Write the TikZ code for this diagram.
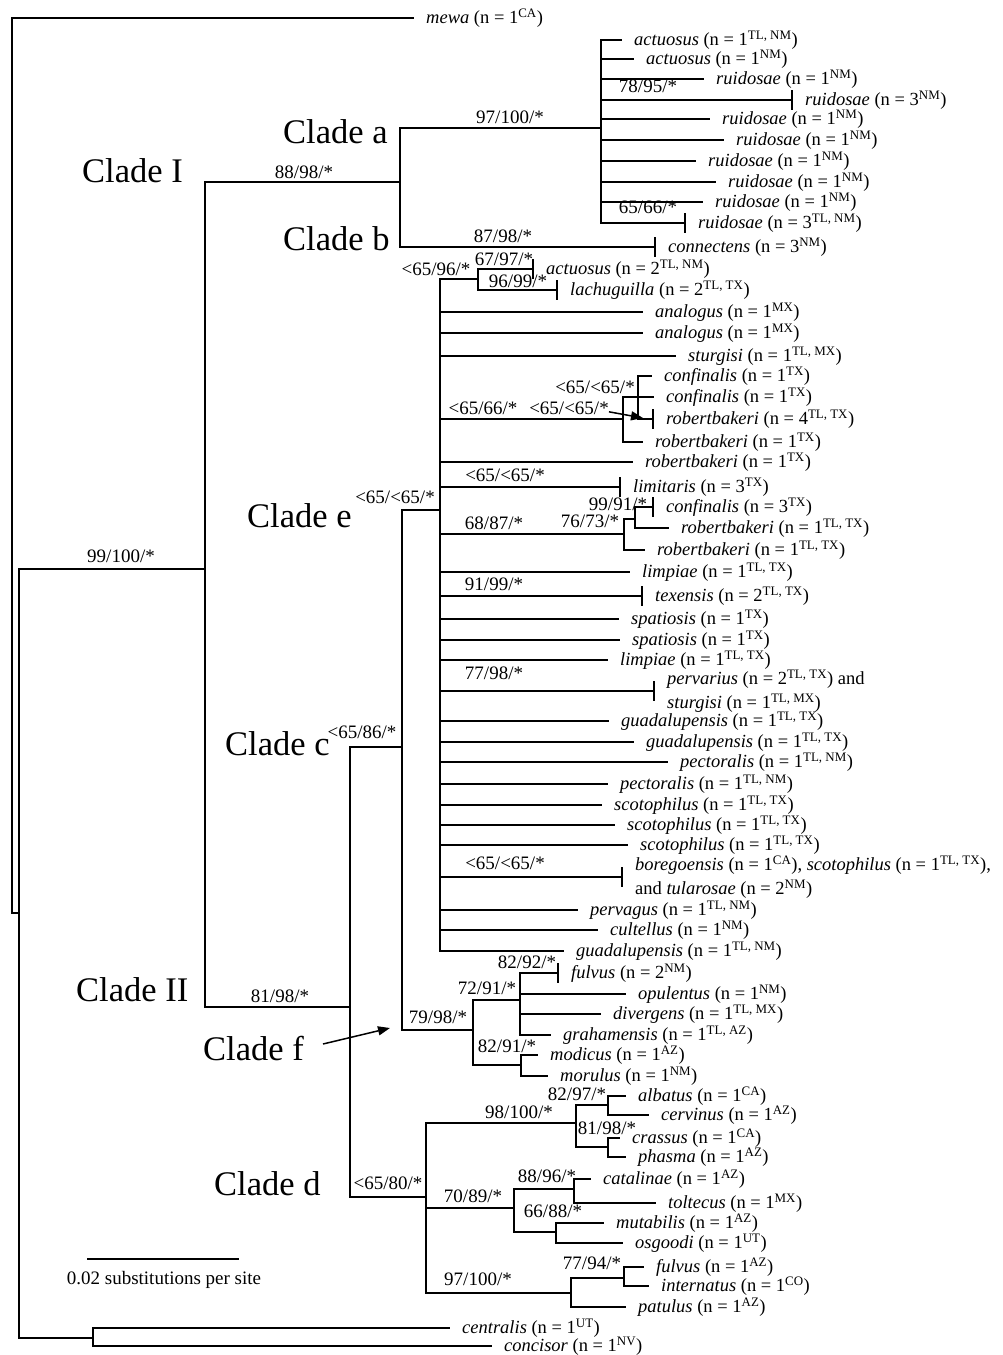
\documentclass[tikz,border=0pt]{standalone}
\usepackage{fontspec}
\setmainfont{Liberation Serif}
\usetikzlibrary{arrows.meta}
\newcommand{\ncount}[2]{(n = #1\textsuperscript{#2})}
\begin{document}
\begin{tikzpicture}[x=1pt,y=-1pt,
  br/.style={line width=2.9pt, line join=miter, line cap=rect},
  leaf/.style={anchor=west, inner xsep=13pt, inner ysep=0pt, font=\fontsize{18.5}{24}\selectfont, align=left},
  supp/.style={anchor=base, inner sep=0pt, font=\fontsize{19}{22}\selectfont},
  clade/.style={anchor=base west, inner sep=0pt, font=\fontsize{34.5}{40}\selectfont},
  tickbar/.style={line width=2.9pt},
  arr/.style={line width=1.5pt, -{Triangle[length=12pt,width=9pt]}}
]
\useasboundingbox (0,0) rectangle (1003,1355);

% internal nodes
\coordinate (root) at (12,913);
\coordinate (X) at (19,913);
\coordinate (CI) at (205,569);
\coordinate (Ia) at (400,182);
\coordinate (Ca) at (601,128);
\coordinate (II) at (350,1007);
\coordinate (Cc) at (402,747);
\coordinate (Ce) at (440,510);
\coordinate (AL) at (478,279);
\coordinate (CF) at (623,419);
\coordinate (CF2) at (638,397);
\coordinate (CR) at (624,534);
\coordinate (CR2) at (635,519);
\coordinate (Cf) at (473,1030);
\coordinate (F1) at (520,1000);
\coordinate (F2) at (521,1065);
\coordinate (Cd) at (426,1197);
\coordinate (D1) at (576,1123);
\coordinate (D1a) at (608,1105);
\coordinate (D1b) at (608,1147);
\coordinate (D2) at (514,1208);
\coordinate (D2a) at (574,1189);
\coordinate (D2b) at (556,1232);
\coordinate (D3) at (571,1293);
\coordinate (D3a) at (624,1278);
\coordinate (B) at (93,1338);

% leaves
\node[leaf] (mewa) at (413,18) {\textit{mewa} \ncount{1}{CA}};
\node[leaf] (a1) at (621,40) {\textit{actuosus} \ncount{1}{TL, NM}};
\node[leaf] (a2) at (633,59) {\textit{actuosus} \ncount{1}{NM}};
\node[leaf] (a3) at (703,79) {\textit{ruidosae} \ncount{1}{NM}};
\node[leaf] (a4) at (792,100) {\textit{ruidosae} \ncount{3}{NM}};
\node[leaf] (a5) at (709,119) {\textit{ruidosae} \ncount{1}{NM}};
\node[leaf] (a6) at (723,140) {\textit{ruidosae} \ncount{1}{NM}};
\node[leaf] (a7) at (695,161) {\textit{ruidosae} \ncount{1}{NM}};
\node[leaf] (a8) at (715,182) {\textit{ruidosae} \ncount{1}{NM}};
\node[leaf] (a9) at (702,202) {\textit{ruidosae} \ncount{1}{NM}};
\node[leaf] (a10) at (685,223) {\textit{ruidosae} \ncount{3}{TL, NM}};
\node[leaf] (conn) at (655,247) {\textit{connectens} \ncount{3}{NM}};
\node[leaf] (al1) at (533,269) {\textit{actuosus} \ncount{2}{TL, NM}};
\node[leaf] (al2) at (557,290) {\textit{lachuguilla} \ncount{2}{TL, TX}};
\node[leaf] (e1) at (642,312) {\textit{analogus} \ncount{1}{MX}};
\node[leaf] (e2) at (642,333) {\textit{analogus} \ncount{1}{MX}};
\node[leaf] (e3) at (675,356) {\textit{sturgisi} \ncount{1}{TL, MX}};
\node[leaf] (cf1) at (651,376) {\textit{confinalis} \ncount{1}{TX}};
\node[leaf] (cf2) at (653,397) {\textit{confinalis} \ncount{1}{TX}};
\node[leaf] (cf3) at (653,419) {\textit{robertbakeri} \ncount{4}{TL, TX}};
\node[leaf] (cfr) at (642,442) {\textit{robertbakeri} \ncount{1}{TX}};
\node[leaf] (e4) at (632,462) {\textit{robertbakeri} \ncount{1}{TX}};
\node[leaf] (e5) at (620,487) {\textit{limitaris} \ncount{3}{TX}};
\node[leaf] (cr1) at (653,507) {\textit{confinalis} \ncount{3}{TX}};
\node[leaf] (cr2) at (668,528) {\textit{robertbakeri} \ncount{1}{TL, TX}};
\node[leaf] (crr) at (644,550) {\textit{robertbakeri} \ncount{1}{TL, TX}};
\node[leaf] (e6) at (629,572) {\textit{limpiae} \ncount{1}{TL, TX}};
\node[leaf] (e7) at (642,596) {\textit{texensis} \ncount{2}{TL, TX}};
\node[leaf] (e8) at (618,619) {\textit{spatiosis} \ncount{1}{TX}};
\node[leaf] (e9) at (619,640) {\textit{spatiosis} \ncount{1}{TX}};
\node[leaf] (e10) at (607,660) {\textit{limpiae} \ncount{1}{TL, TX}};
\node[leaf] (e11) at (654,691) {\textit{pervarius} \ncount{2}{TL, TX} and\\\textit{sturgisi} \ncount{1}{TL, MX}};
\node[leaf] (e12) at (608,721) {\textit{guadalupensis} \ncount{1}{TL, TX}};
\node[leaf] (e13) at (633,742) {\textit{guadalupensis} \ncount{1}{TL, TX}};
\node[leaf] (e14) at (667,762) {\textit{pectoralis} \ncount{1}{TL, NM}};
\node[leaf] (e15) at (607,784) {\textit{pectoralis} \ncount{1}{TL, NM}};
\node[leaf] (e16) at (601,805) {\textit{scotophilus} \ncount{1}{TL, TX}};
\node[leaf] (e17) at (614,825) {\textit{scotophilus} \ncount{1}{TL, TX}};
\node[leaf] (e18) at (627,845) {\textit{scotophilus} \ncount{1}{TL, TX}};
\node[leaf] (e19) at (622,877) {\textit{boregoensis} \ncount{1}{CA}, \textit{scotophilus} \ncount{1}{TL, TX},\\and \textit{tularosae} \ncount{2}{NM}};
\node[leaf] (e20) at (577,910) {\textit{pervagus} \ncount{1}{TL, NM}};
\node[leaf] (e21) at (597,930) {\textit{cultellus} \ncount{1}{NM}};
\node[leaf] (e22) at (563,951) {\textit{guadalupensis} \ncount{1}{TL, NM}};
\node[leaf] (f1) at (558,973) {\textit{fulvus} \ncount{2}{NM}};
\node[leaf] (f2) at (625,994) {\textit{opulentus} \ncount{1}{NM}};
\node[leaf] (f3) at (600,1014) {\textit{divergens} \ncount{1}{TL, MX}};
\node[leaf] (f4) at (550,1035) {\textit{grahamensis} \ncount{1}{TL, AZ}};
\node[leaf] (f5) at (537,1055) {\textit{modicus} \ncount{1}{AZ}};
\node[leaf] (f6) at (547,1076) {\textit{morulus} \ncount{1}{NM}};
\node[leaf] (d1) at (625,1096) {\textit{albatus} \ncount{1}{CA}};
\node[leaf] (d2) at (648,1115) {\textit{cervinus} \ncount{1}{AZ}};
\node[leaf] (d3) at (619,1138) {\textit{crassus} \ncount{1}{CA}};
\node[leaf] (d4) at (625,1157) {\textit{phasma} \ncount{1}{AZ}};
\node[leaf] (d5) at (590,1179) {\textit{catalinae} \ncount{1}{AZ}};
\node[leaf] (d6) at (655,1203) {\textit{toltecus} \ncount{1}{MX}};
\node[leaf] (d7) at (603,1223) {\textit{mutabilis} \ncount{1}{AZ}};
\node[leaf] (d8) at (622,1243) {\textit{osgoodi} \ncount{1}{UT}};
\node[leaf] (d9) at (643,1267) {\textit{fulvus} \ncount{1}{AZ}};
\node[leaf] (d10) at (648,1286) {\textit{internatus} \ncount{1}{CO}};
\node[leaf] (d11) at (625,1307) {\textit{patulus} \ncount{1}{AZ}};
\node[leaf] (c1) at (449,1328) {\textit{centralis} \ncount{1}{UT}};
\node[leaf] (c2) at (491,1346) {\textit{concisor} \ncount{1}{NV}};

% branches
\draw[br] (root) |- (mewa.west);
\draw[br] (root) -- (X);
\draw[br] (X) |- (CI);
\draw[br] (X) |- (B);
\draw[br] (CI) |- (Ia);
\draw[br] (CI) |- (II);
\draw[br] (Ia) |- (Ca);
\draw[br] (Ia) |- (conn.west);
\foreach \n in {a1,a2,a3,a4,a5,a6,a7,a8,a9,a10} \draw[br] (Ca) |- (\n.west);
\draw[br] (II) |- (Cc);
\draw[br] (II) |- (Cd);
\draw[br] (Cc) |- (Ce);
\draw[br] (Cc) |- (Cf);
\draw[br] (Ce) |- (AL);
\draw[br] (Ce) |- (CF);
\draw[br] (Ce) |- (CR);
\foreach \n in {e1,e2,e3,e4,e5,e6,e7,e8,e9,e10,e11,e12,e13,e14,e15,e16,e17,e18,e19,e20,e21,e22} \draw[br] (Ce) |- (\n.west);
\draw[br] (AL) |- (al1.west);
\draw[br] (AL) |- (al2.west);
\draw[br] (CF) |- (CF2);
\draw[br] (CF) |- (cfr.west);
\foreach \n in {cf1,cf2,cf3} \draw[br] (CF2) |- (\n.west);
\draw[br] (CR) |- (CR2);
\draw[br] (CR) |- (crr.west);
\draw[br] (CR2) |- (cr1.west);
\draw[br] (CR2) |- (cr2.west);
\draw[br] (Cf) |- (F1);
\draw[br] (Cf) |- (F2);
\foreach \n in {f1,f2,f3,f4} \draw[br] (F1) |- (\n.west);
\draw[br] (F2) |- (f5.west);
\draw[br] (F2) |- (f6.west);
\draw[br] (Cd) |- (D1);
\draw[br] (Cd) |- (D2);
\draw[br] (Cd) |- (D3);
\draw[br] (D1) |- (D1a);
\draw[br] (D1) |- (D1b);
\draw[br] (D1a) |- (d1.west);
\draw[br] (D1a) |- (d2.west);
\draw[br] (D1b) |- (d3.west);
\draw[br] (D1b) |- (d4.west);
\draw[br] (D2) |- (D2a);
\draw[br] (D2) |- (D2b);
\draw[br] (D2a) |- (d5.west);
\draw[br] (D2a) |- (d6.west);
\draw[br] (D2b) |- (d7.west);
\draw[br] (D2b) |- (d8.west);
\draw[br] (D3) |- (D3a);
\draw[br] (D3) |- (d11.west);
\draw[br] (D3a) |- (d9.west);
\draw[br] (D3a) |- (d10.west);
\draw[br] (B) |- (c1.west);
\draw[br] (B) |- (c2.west);

% terminal bars
\foreach \n in {a4,a10,conn,al1,al2,cf3,e5,cr1,e7,e11,e19,f1}
  \draw[tickbar] ([yshift=10pt]\n.west) -- ([yshift=-10pt]\n.west);

% support values
\node[supp] (s1) at (121,562) {99/100/*};
\node[supp] (s2) at (304,178) {88/98/*};
\node[supp] (s3) at (510,123) {97/100/*};
\node[supp] (s4) at (503,242) {87/98/*};
\node[supp] (s5) at (648,92) {78/95/*};
\node[supp] (s6) at (648,213) {65/66/*};
\node[supp] (s7) at (436,275) {<65/96/*};
\node[supp] (s8) at (504,265) {67/97/*};
\node[supp] (s9) at (518,287) {96/99/*};
\node[supp] (s10) at (395,503) {<65/<65/*};
\node[supp] (s11) at (595,393) {<65/<65/*};
\node[supp] (s12) at (483,414) {<65/66/*};
\node[supp] (s13) at (569,414) {<65/<65/*};
\node[supp] (s14) at (505,481) {<65/<65/*};
\node[supp] (s15) at (618,510) {99/91/*};
\node[supp] (s16) at (590,527) {76/73/*};
\node[supp] (s17) at (494,529) {68/87/*};
\node[supp] (s18) at (494,590) {91/99/*};
\node[supp] (s19) at (494,679) {77/98/*};
\node[supp] (s20) at (505,869) {<65/<65/*};
\node[supp] (s21) at (362,738) {<65/86/*};
\node[supp] (s22) at (280,1002) {81/98/*};
\node[supp] (s23) at (527,968) {82/92/*};
\node[supp] (s24) at (487,994) {72/91/*};
\node[supp] (s25) at (438,1023) {79/98/*};
\node[supp] (s26) at (507,1052) {82/91/*};
\node[supp] (s27) at (577,1100) {82/97/*};
\node[supp] (s28) at (519,1118) {98/100/*};
\node[supp] (s29) at (607,1134) {81/98/*};
\node[supp] (s30) at (388,1189) {<65/80/*};
\node[supp] (s31) at (547,1182) {88/96/*};
\node[supp] (s32) at (473,1202) {70/89/*};
\node[supp] (s33) at (553,1217) {66/88/*};
\node[supp] (s34) at (592,1269) {77/94/*};
\node[supp] (s35) at (478,1285) {97/100/*};

% arrow from support value to node
\coordinate (cfTip) at (643,418);
\draw[arr] ([yshift=-4pt]s13.east) -- (cfTip);

% clade labels
\node[clade] (kI) at (82,182) {Clade I};
\node[clade] (ka) at (283,143) {Clade a};
\node[clade] (kb) at (283,250) {Clade b};
\node[clade] (ke) at (247,527) {Clade e};
\node[clade] (kc) at (225,755) {Clade c};
\node[clade] (kII) at (76,1001) {Clade II};
\node[clade] (kf) at (203,1060) {Clade f};
\node[clade] (kd) at (214,1195) {Clade d};
\coordinate (fStart) at (323,1044);
\coordinate (fTip) at (390,1028);
\draw[arr] (fStart) -- (fTip);

% scale bar
\coordinate (sb1) at (87,1259);
\coordinate (sb2) at (239,1259);
\draw[br, line cap=butt] (sb1) -- (sb2);
\node[supp] (sbt) at (164,1284) {0.02 substitutions per site};
\end{tikzpicture}
\end{document}
